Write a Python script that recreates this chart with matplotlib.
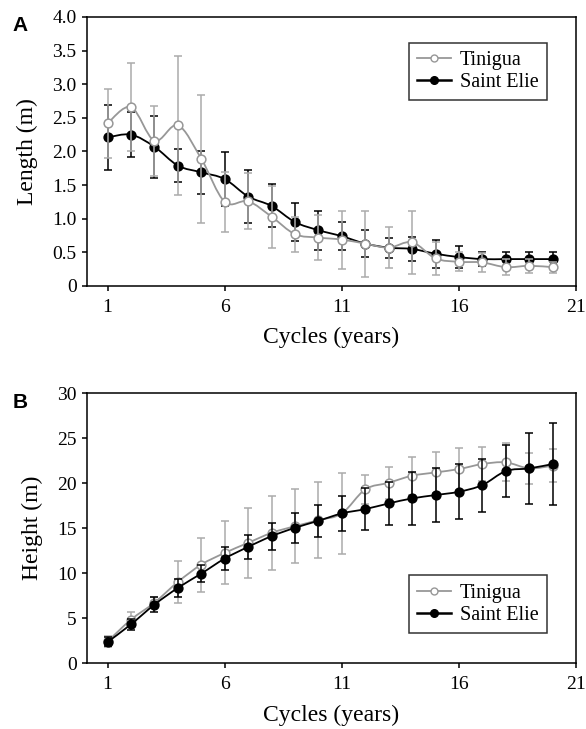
import numpy as np
import matplotlib
matplotlib.use("Agg")
import matplotlib.pyplot as plt
from matplotlib.path import Path
from matplotlib.patches import PathPatch
from matplotlib.lines import Line2D

cycles = list(range(1, 21))

# panel A - length (m)
len_tin = [2.42, 2.66, 2.16, 2.39, 1.89, 1.25, 1.26, 1.03, 0.77, 0.72,
           0.69, 0.63, 0.57, 0.65, 0.41, 0.36, 0.35, 0.28, 0.30, 0.28]
len_tin_err = [0.51, 0.66, 0.52, 1.03, 0.95, 0.44, 0.42, 0.46, 0.26, 0.34,
               0.43, 0.49, 0.30, 0.47, 0.25, 0.14, 0.14, 0.12, 0.10, 0.08]
len_se = [2.21, 2.25, 2.07, 1.79, 1.69, 1.59, 1.33, 1.19, 0.95, 0.83,
          0.74, 0.63, 0.57, 0.55, 0.48, 0.43, 0.40, 0.40, 0.40, 0.40]
len_se_err = [0.48, 0.33, 0.46, 0.24, 0.32, 0.40, 0.39, 0.32, 0.28, 0.29,
              0.21, 0.20, 0.15, 0.18, 0.21, 0.16, 0.11, 0.11, 0.11, 0.10]

# panel B - height (m)
h_tin = [2.41, 4.83, 6.72, 9.02, 10.95, 12.25, 13.37, 14.48, 15.22, 15.89,
         16.64, 19.31, 20.05, 20.83, 21.20, 21.57, 22.13, 22.32, 21.65, 21.95]
h_tin_err = [0.6, 0.8, 0.65, 2.3, 3.0, 3.5, 3.9, 4.1, 4.1, 4.2,
             4.5, 1.6, 1.8, 2.1, 2.3, 2.3, 1.9, 2.1, 1.7, 1.8]
h_se = [2.34, 4.31, 6.50, 8.36, 9.95, 11.62, 12.92, 14.11, 15.04, 15.82,
        16.64, 17.12, 17.75, 18.31, 18.68, 19.05, 19.79, 21.35, 21.65, 22.13]
h_se_err = [0.5, 0.6, 0.8, 1.0, 0.95, 1.25, 1.3, 1.5, 1.7, 1.8,
            1.95, 2.3, 2.35, 2.95, 3.05, 3.05, 2.95, 2.9, 3.95, 4.6]

xticks = [1, 6, 11, 16, 21]
grey = "#979797"
grey_err = "#ababab"
serif = ["Liberation Serif", "DejaVu Serif"]

plt.rcParams["font.family"] = serif


def smooth_path(x, y):
    # Excel-style smoothed line: cubic bezier through every point
    x = np.asarray(x, float)
    y = np.asarray(y, float)
    n = len(x)
    verts = [(x[0], y[0])]
    codes = [Path.MOVETO]
    for i in range(n - 1):
        x0, y0 = (x[i - 1], y[i - 1]) if i > 0 else (x[i], y[i])
        x3, y3 = (x[i + 2], y[i + 2]) if i + 2 < n else (x[i + 1], y[i + 1])
        c1 = (x[i] + (x[i + 1] - x0) / 6, y[i] + (y[i + 1] - y0) / 6)
        c2 = (x[i + 1] - (x3 - x[i]) / 6, y[i + 1] - (y3 - y[i]) / 6)
        verts += [c1, c2, (x[i + 1], y[i + 1])]
        codes += [Path.CURVE4] * 3
    return Path(verts, codes)


def draw_series(ax, y, err, line_c, err_c, face, z):
    ax.errorbar(cycles, y, yerr=err, fmt="none", ecolor=err_c, elinewidth=1.1,
                capsize=3.2, capthick=1.1, zorder=z)
    ax.add_patch(PathPatch(smooth_path(cycles, y), fill=False, edgecolor=line_c,
                           lw=1.3, zorder=z + 0.1))
    ax.plot(cycles, y, ls="none", marker="o", ms=6.3, mfc=face, mec=line_c,
            mew=1.1, zorder=z + 0.2)


def style_axis(ax, ylabel, ylim, yticks, ylabels):
    ax.set_xlim(0.12, 21)
    ax.set_ylim(*ylim)
    ax.set_xticks(xticks)
    ax.set_yticks(yticks)
    ax.set_yticklabels(ylabels)
    ax.tick_params(direction="out", length=3.5, width=1.1, labelsize=14, pad=4,
                   top=False, right=False)
    ax.tick_params(axis="x", pad=6)
    for sp in ax.spines.values():
        sp.set_linewidth(1.1)
    ax.set_xlabel("Cycles (years)", fontsize=17, labelpad=8)
    ax.set_ylabel(ylabel, fontsize=17, labelpad=10)


def add_legend(ax, loc, anchor):
    handles = [
        Line2D([], [], color=grey, lw=1.3, marker="o", ms=5, mfc="white", mec=grey),
        Line2D([], [], color="black", lw=1.8, marker="o", ms=5.5, mfc="black", mec="black"),
    ]
    leg = ax.legend(handles, ["Tinigua", "Saint Elie"], loc=loc, bbox_to_anchor=anchor,
                    borderaxespad=0, prop={"family": serif, "size": 14.5},
                    frameon=True, fancybox=False,
                    handlelength=1.7, handletextpad=0.45, borderpad=0.4,
                    labelspacing=0.15)
    leg.get_frame().set_edgecolor("black")
    leg.get_frame().set_linewidth(1.1)


fig = plt.figure(figsize=(5.86, 7.29), dpi=100)
ax1 = fig.add_axes([0.1485, 0.6077, 0.8345, 0.369])
ax2 = fig.add_axes([0.1485, 0.0905, 0.8345, 0.370])

draw_series(ax1, len_se, len_se_err, "black", "black", "black", 2)
draw_series(ax1, len_tin, len_tin_err, grey, grey_err, "white", 3)
len_ticks = np.arange(0, 4.01, 0.5)
style_axis(ax1, "Length (m)", (0, 4), len_ticks,
           ["0"] + [f"{v:.1f}" for v in len_ticks[1:]])
add_legend(ax1, "upper right", (0.94, 0.905))

draw_series(ax2, h_tin, h_tin_err, grey, grey_err, "white", 2)
draw_series(ax2, h_se, h_se_err, "black", "black", "black", 3)
h_ticks = list(range(0, 31, 5))
style_axis(ax2, "Height (m)", (0, 30), h_ticks, [str(v) for v in h_ticks])
add_legend(ax2, "lower right", (0.94, 0.112))

fig.text(0.022, 0.978, "A", fontsize=15, fontweight="bold", family="Liberation Sans",
         va="top", ha="left")
fig.text(0.022, 0.4615, "B", fontsize=15, fontweight="bold", family="Liberation Sans",
         va="top", ha="left")

fig.savefig("out.png", dpi=100)
